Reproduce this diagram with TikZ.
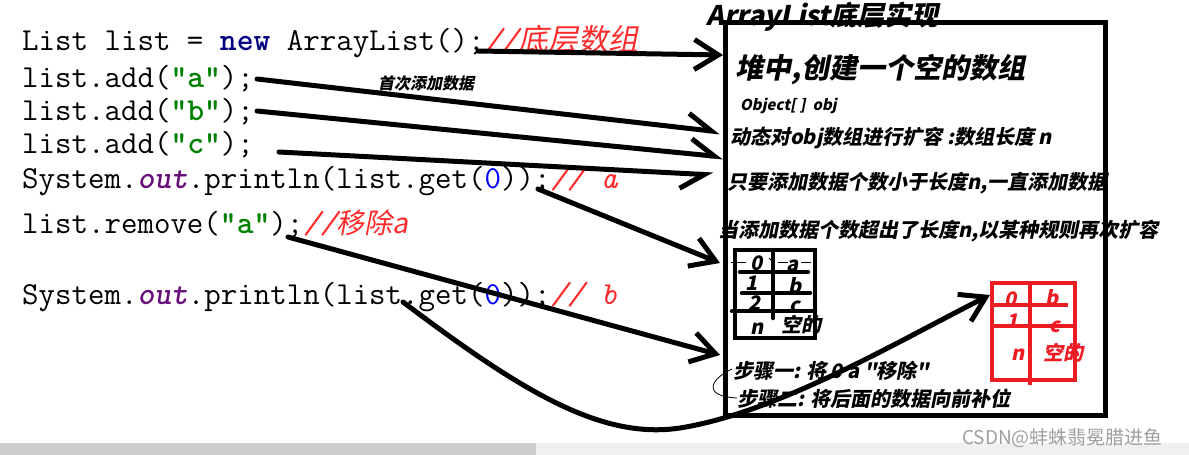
\documentclass[tikz,border=0pt]{standalone}
\usepackage{fontspec}
\usetikzlibrary{arrows.meta}
\newfontfamily\cjk{Noto Sans CJK SC}[FakeSlant=0.2]
\newfontfamily\cjkup{Noto Sans CJK SC}
\definecolor{kw}{HTML}{000080}
\definecolor{strc}{HTML}{008000}
\definecolor{fld}{HTML}{660E7A}
\definecolor{num}{HTML}{0000FF}
\definecolor{cmt}{HTML}{FF2A2A}
\definecolor{pred}{HTML}{ED1C24}
\definecolor{barlight}{HTML}{F0F0F0}
\definecolor{bardark}{HTML}{CDCDCD}
\tikzset{
  code/.style={anchor=base west, inner sep=0pt, font=\ttfamily\fontsize{32}{34}\selectfont},
  lbl/.style={anchor=base west, inner sep=0pt, font=\cjk\bfseries\fontsize{#1}{#1}\selectfont},
  lbl/.default=20,
  cell/.style={anchor=base, inner sep=0pt, font=\cjk\bfseries\fontsize{20}{20}\selectfont},
  conn/.style={line width=5pt, line cap=round, black},
  barb/.style={-{Straight Barb[length=24pt,width=30pt]}},
  barbl/.style={-{Straight Barb[length=24pt,width=30pt,left]}},
  barbr/.style={-{Straight Barb[length=24pt,width=30pt,right]}},
  tline/.style={line width=4.5pt, black},
  rline/.style={line width=4pt, pred},
}
\begin{document}
\begin{tikzpicture}[x=1pt,y=-1pt]
\useasboundingbox (0,0) rectangle (1189,455);
\fill[white] (0,0) rectangle (1189,455);
% scroll bar
\fill[barlight] (536,443) rectangle (1189,455);
\fill[bardark] (0,443) rectangle (536,455);

% code
\node[code] (c1) at (22,50) {List list = {\bfseries\color{kw}new} ArrayList();{\color{cmt}\itshape //{\cjk\fontsize{30}{30}\selectfont 底层数组}}};
\node[code] (c2) at (22,87) {list.add({\bfseries\color{strc}"a"});};
\node[code] (c3) at (22,120) {list.add({\bfseries\color{strc}"b"});};
\node[code] (c4) at (22,153) {list.add({\bfseries\color{strc}"c"});};
\node[code] (c5) at (22,188) {System.{\bfseries\itshape\color{fld}out}.println(list.get({\color{num}0}));{\color{cmt}\itshape// a}};
\node[code] (c6) at (22,233) {list.remove({\bfseries\color{strc}"a"});{\color{cmt}\itshape//{\cjk\fontsize{28}{28}\selectfont 移除a}}};
\node[code] (c7) at (22,304) {System.{\bfseries\itshape\color{fld}out}.println(list.get({\color{num}0}));{\color{cmt}\itshape// b}};

% first add label
\node[lbl=16] (first) at (378,89) {首次添加数据};

% main box
\node[draw=black, line width=5pt, minimum width=380pt, minimum height=393pt, anchor=north west, inner sep=0pt] (box) at (723,20) {};
\node[lbl=27] (title) at (706,25) {ArrayList底层实现};
\node[lbl=28] (t1) at (735,78) {堆中,创建一个空的数组};
\node[lbl=15] (t2) at (740,110) {Object[ ]\ \ obj};
\node[lbl] (t3) at (730,144) {动态对obj数组进行扩容 :数组长度 n};
\node[lbl] (t4) at (727,189) {只要添加数据个数小于长度n,一直添加数据};
\node[lbl] (t5) at (718,237) {当添加数据个数超出了长度n,以某种规则再次扩容};
\node[lbl] (s1) at (733,378) {步骤一: 将 0 a "移除"};
\node[lbl] (s2) at (737,406) {步骤二: 将后面的数据向前补位};

% small black table
\node[cell] (k0) at (757,270) {0};
\node[cell] (ka) at (793,271) {a};
\node[cell] (k1) at (752,290) {1};
\node[cell] (kb) at (795,293) {b};
\node[cell] (k2) at (755,310) {2};
\node[cell] (kc) at (795,312) {c};
\node[cell] (kn) at (757,334) {n};
\node[cell] (kk) at (801,332) {空的};
\draw[tline] (735,250) rectangle (815,338);
\draw[tline, line cap=round] (773,250) -- (773,318);
\draw[tline, line cap=round] (740,272) -- (808,272);
\draw[tline, line cap=round] (742,293) -- (810,293);
\draw[tline, line cap=round] (732,311) -- (815,311);
\draw[line width=0.8pt] (731,262) -- (746,262);
\draw[line width=0.8pt] (769,258) -- (774,263);
\draw[line width=0.8pt] (778,262) -- (788,262);
\draw[line width=0.8pt] (801,262) -- (811,262);

% red table
\node[cell, text=pred] (r0) at (1011,306) {0};
\node[cell, text=pred] (rb) at (1052,305) {b};
\node[cell, text=pred] (r1) at (1013,328) {1};
\node[cell, text=pred] (rc) at (1055,332) {c};
\node[cell, text=pred] (rn) at (1018,360) {n};
\node[cell, text=pred] (rk) at (1063,360) {空的};
\draw[rline] (992,283) rectangle (1075,380);
\draw[rline] (1030,283) -- (1030,385);
\draw[rline] (992,305) -- (1068,305);
\draw[rline] (992,326) -- (1075,326);

% scribble
\draw[line width=0.8pt] (732,369) .. controls (712,378) and (700,396) .. (737,398);

% connectors
\coordinate (a1s) at (478,51);  \coordinate (a1e) at (723,55);
\coordinate (a2s) at (257,79);  \coordinate (a2e) at (720,132);
\coordinate (a3s) at (257,111); \coordinate (a3e) at (723,157);
\coordinate (a4s) at (279,152); \coordinate (a4e) at (713,175);
\coordinate (a5s) at (538,189); \coordinate (a5e) at (720,263);
\coordinate (a6s) at (288,237); \coordinate (a6e) at (720,355);
\coordinate (a7s) at (403,302); \coordinate (a7m) at (680,428); \coordinate (a7e) at (990,295);
\draw[conn,barb] (a1s) -- (a1e);
\draw[conn,barbl] (a2s) -- (a2e);
\draw[conn,barbl] (a3s) -- (a3e);
\draw[conn,barbr] (a4s) -- (a4e);
\draw[conn,barb] (a5s) -- (a5e);
\draw[conn,barb] (a6s) -- (a6e);
\draw[conn,barb] (a7s) .. controls (520,390) and (600,440) .. (a7m) .. controls (780,412) and (900,340) .. (a7e);

% watermark
\node[anchor=base west, inner sep=0pt, font=\cjkup\fontsize{19}{19}\selectfont, text=gray!75] (wm) at (962,444) {CSDN@蚌蛛翡冕腊进鱼};
\end{tikzpicture}
\end{document}
